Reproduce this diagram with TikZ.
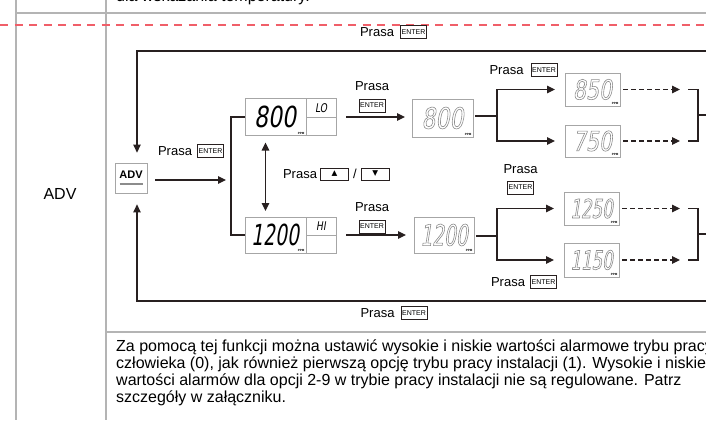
\documentclass[tikz,border=0pt]{standalone}
\usepackage{fontspec}
\setmainfont{Liberation Sans}
\newfontfamily\segfont[FakeStretch=0.76,FakeSlant=0.16]{DejaVu Sans}
\newfontfamily\segnarrow[FakeStretch=0.64,FakeSlant=0.16]{DejaVu Sans}
\newfontfamily\symfont{DejaVu Sans}
\usetikzlibrary{arrows.meta,positioning}
\definecolor{dashred}{RGB}{240,95,105}
\definecolor{rulegray}{RGB}{180,180,180}
\definecolor{ink}{RGB}{40,32,32}
\newcommand{\hollow}[1]{\special{pdf:literal direct 1 Tr 0.6 w}#1\special{pdf:literal direct 0 Tr}}

\begin{document}
\begin{tikzpicture}[x=1pt,y=-1pt,>={Triangle[length=8pt,width=7.5pt]},
                    line/.style={ink,line width=1.2pt},
                    arr/.style={line,->},
                    dash arr/.style={arr,dash pattern=on 4.5pt off 3.5pt},
                    lbl/.style={inner sep=0pt,font=\fontsize{13}{13}\selectfont},
                    para/.style={inner sep=0pt,font=\fontsize{16}{17}\selectfont},
                    key/.style={draw=ink,line width=0.7pt,inner sep=0pt,minimum width=26pt,
                                minimum height=13pt,font=\fontsize{7}{7}\selectfont},
                    arrow key/.style={key,minimum width=28pt,minimum height=12pt,
                                font=\symfont\fontsize{7.5}{7.5}\selectfont},
                    lcd/.style={draw=black!35,line width=0.8pt,outer sep=0pt,inner sep=0pt,
                                minimum width=#1},
                    digits/.style={font=\segfont\fontsize{29}{29}\selectfont},
                    digits narrow/.style={font=\segnarrow\fontsize{29}{29}\selectfont},
                    dim digits/.style={text=black!45,font=\segfont\fontsize{#1}{#1}\selectfont},
                    dim narrow/.style={text=black!45,font=\segnarrow\fontsize{#1}{#1}\selectfont},
                    tag/.style={lcd=30,minimum height=18.5pt,font=\segfont\fontsize{12}{12}\selectfont},
                    ppm/.style={inner sep=0pt,font=\fontsize{3}{3}\selectfont\bfseries}]
\useasboundingbox (0,0) rectangle (706,420);

% table frame
\node[para,anchor=base west] (prev) at (116,2) {dla wskazania temperatury.};
\draw[rulegray,line width=1.6pt] (16,0) -- (16,420) (106,0) -- (106,420)
  (16,13) -- (706,13) (106,332) -- (706,332);
\draw[dashred,line width=1.6pt,dash pattern=on 8pt off 6.5pt] (0,25) -- (706,25);
\node[font=\fontsize{16}{16}\selectfont] (col) at (60,194) {ADV};

% displays
\node[draw=black!35,line width=0.8pt,minimum width=32pt,minimum height=30pt,align=center,
      font=\fontsize{11}{11}\selectfont] (adv) at (131,178)
      {\bfseries ADV\\[-5pt]{\color{black!45}\rule{23pt}{1.8pt}}};
\node[lcd=61,minimum height=37pt,digits] (lo) at (275.5,117) {800};
\node[tag,anchor=north west] (loTag) at (lo.north east) {LO};
\node[tag,anchor=north west] (loFoot) at (loTag.south west) {};
\node[lcd=61,minimum height=36pt,digits narrow] (hi) at (275.5,235) {1200};
\node[tag,minimum height=18pt,anchor=north west] (hiTag) at (hi.north east) {HI};
\node[tag,minimum height=18pt,anchor=north west] (hiFoot) at (hiTag.south west) {};
\node[lcd=61,minimum height=38pt,dim digits=29] (loSet) at (442.5,118) {\hollow{800}};
\node[lcd=60,minimum height=36pt,dim narrow=29] (hiSet) at (444,235) {\hollow{1200}};
\node[lcd=55,minimum height=33pt,dim digits=27] (lo850) at (592.5,89.5) {\hollow{850}};
\node[lcd=55,minimum height=32pt,dim digits=27] (lo750) at (592.5,141) {\hollow{750}};
\node[lcd=55,minimum height=33pt,dim narrow=26] (hi1250) at (591.5,208.5) {\hollow{1250}};
\node[lcd=55,minimum height=34pt,dim narrow=26] (hi1150) at (591.5,260) {\hollow{1150}};
\foreach \d in {lo,hi,loSet,hiSet,lo850,lo750,hi1250,hi1150}
  \node[ppm,anchor=south east] at ([xshift=-1.5pt,yshift=1pt]\d.south east) {PPM};

% key labels
\node[lbl] (pTop) at (377,32) {Prasa};
\node[key] (kTop) [right=6pt of pTop] {ENTER};
\node[lbl] (pAdv) at (175,151) {Prasa};
\node[key] (kAdv) [right=5pt of pAdv] {ENTER};
\node[lbl] (pLo) at (372,86) {Prasa};
\node[key] (kLo) [below=8pt of pLo] {ENTER};
\node[lbl] (pHi) at (372,207) {Prasa};
\node[key] (kHi) [below=8pt of pHi] {ENTER};
\node[lbl] (pSw) at (300,174) {Prasa};
\node[arrow key] (kUp) [right=3pt of pSw] {▲};
\node[lbl] (slash) [right=4pt of kUp] {/};
\node[arrow key] (kDn) [right=4pt of slash] {▼};
\node[lbl] (p850) at (506.5,70) {Prasa};
\node[key] (k850) [right=7pt of p850] {ENTER};
\node[lbl] (p1250) at (520.5,169) {Prasa};
\node[key] (k1250) [below=7pt of p1250] {ENTER};
\node[lbl] (p1150) at (508,282) {Prasa};
\node[key] (k1150) [right=5pt of p1150] {ENTER};
\node[lbl] (pBot) at (377.5,313) {Prasa};
\node[key] (kBot) [right=6pt of pBot] {ENTER};

% connectors
\coordinate (cT) at (137,51);   \coordinate (cB) at (137,301);
\coordinate (loopT) at (712,51); \coordinate (loopB) at (712,301);
\coordinate (jL) at (231,180);
\coordinate (jT) at (497,116);  \coordinate (jB) at (497,236);
\coordinate (bT) at (698,115);  \coordinate (bB) at (698,234);

\draw[arr,shorten >=10pt] (loopT) -- (cT) -- (cT |- adv.north);
\draw[arr,shorten >=11pt] (loopB) -- (cB) -- (cB |- adv.south);
\draw[arr,shorten <=8pt,shorten >=5pt] (adv.east |- jL) -- (jL);
\draw[line] (lo.west) -| (jL) |- (hi.west);
\draw[line,<->,shorten <=7pt,shorten >=6pt] ([xshift=-10pt]lo.south) -- ([xshift=-10pt]hi.north);
\draw[arr,shorten <=10pt,shorten >=7pt] (loTag.east |- lo) -- (loSet.west |- lo);
\draw[arr,shorten <=10pt,shorten >=8pt] (hiTag.east |- hi) -- (hiSet.west |- hi);

\draw[line,shorten <=2pt] (loSet.east |- jT) -- (jT);
\draw[arr,shorten >=10pt] (jT) |- (lo850.west);
\draw[arr,shorten >=10pt] (jT) |- (lo750.west);
\draw[line,shorten <=2pt] (hiSet.east |- jB) -- (jB);
\draw[arr,shorten >=10pt] (jB) |- (hi1250.west);
\draw[arr,shorten >=10pt] (jB) |- (hi1150.west);

\draw[dash arr,shorten <=3pt,shorten >=18pt] (lo850.east) -- (lo850.east -| bT);
\draw[dash arr,shorten <=3pt,shorten >=18pt] (lo750.east) -- (lo750.east -| bT);
\draw[dash arr,shorten <=3pt,shorten >=18pt] (hi1250.east) -- (hi1250.east -| bB);
\draw[dash arr,shorten <=3pt,shorten >=18pt] (hi1150.east) -- (hi1150.east -| bB);
\draw[line] (lo850.east -| bT) ++(-10,0) -- (lo850.east -| bT) -- (lo750.east -| bT) -- ++(-10,0);
\draw[line] (hi1250.east -| bB) ++(-10,0) -- (hi1250.east -| bB) -- (hi1150.east -| bB) -- ++(-10,0);
\draw[line] (bT) -- ++(20,0);
\draw[line] (bB) -- ++(20,0);

% description
\node[para,anchor=base west] (t1) at (116,351)
  {Za pomocą tej funkcji można ustawić wysokie i niskie wartości alarmowe trybu pracy};
\node[para,anchor=base west] (t2) at (116,368)
  {człowieka (0), jak również pierwszą opcję trybu pracy instalacji (1). Wysokie i niskie};
\node[para,anchor=base west] (t3) at (116,385)
  {wartości alarmów dla opcji 2-9 w trybie pracy instalacji nie są regulowane. Patrz};
\node[para,anchor=base west] (t4) at (116,402) {szczegóły w załączniku.};
\end{tikzpicture}
\end{document}
